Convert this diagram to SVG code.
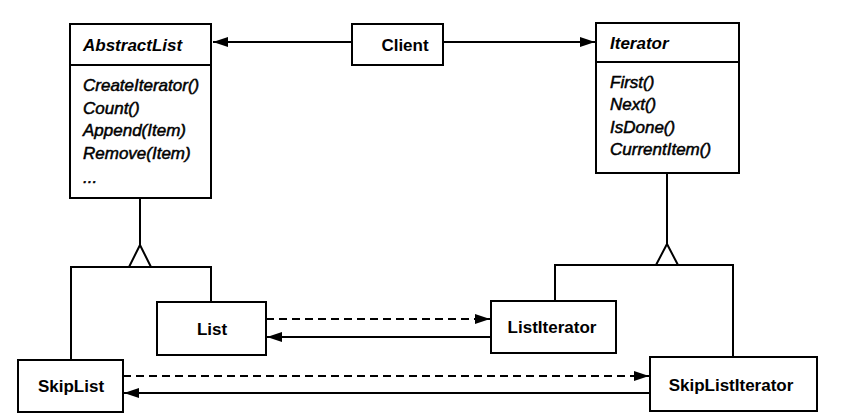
<svg xmlns="http://www.w3.org/2000/svg" width="864" height="420" viewBox="0 0 864 420">
<style>
.box{fill:#fff;stroke:#000;stroke-width:2}
.title{font-family:"Liberation Sans",Arial,sans-serif;font-size:17px;font-weight:bold;font-style:italic;fill:#000}
.name{font-family:"Liberation Sans",Arial,sans-serif;font-size:17px;font-weight:bold;fill:#000;text-anchor:middle}
.op{font-family:"Liberation Sans",Arial,sans-serif;font-size:17px;font-style:italic;fill:#000;stroke:#000;stroke-width:0.5}
.ln{fill:none;stroke:#000;stroke-width:2}
.dash{fill:none;stroke:#000;stroke-width:2;stroke-dasharray:8 5}
.tri{fill:#fff;stroke:#000;stroke-width:2;stroke-linejoin:miter}
</style>
<defs>
<marker id="arr" markerUnits="userSpaceOnUse" markerWidth="17" markerHeight="11" refX="15" refY="5" orient="auto">
<path d="M0,0 L15,5 L0,10 Z" fill="#000"/>
</marker>
</defs>
<rect width="864" height="420" fill="#fff"/>
<g id="connectors">
<line class="ln" x1="352" y1="42" x2="213" y2="42" marker-end="url(#arr)"/>
<line class="ln" x1="443" y1="42" x2="595" y2="42" marker-end="url(#arr)"/>
<polyline class="ln" points="140,198 140,245"/>
<polyline class="ln" points="71,360 71,267 211,267 211,302"/>
<polygon class="tri" points="140,245 129,267 151,267"/>
<polyline class="ln" points="667,173 667,244"/>
<polyline class="ln" points="555,301 555,265 733,265 733,357"/>
<polygon class="tri" points="667,244 656,265 678,265"/>
<line class="dash" x1="266" y1="319" x2="490" y2="319" marker-end="url(#arr)"/>
<line class="ln" x1="491" y1="337" x2="267" y2="337" marker-end="url(#arr)"/>
<line class="dash" x1="123" y1="376" x2="649" y2="376" marker-end="url(#arr)"/>
<line class="ln" x1="650" y1="393" x2="124" y2="393" marker-end="url(#arr)"/>
</g>
<g id="AbstractList">
<rect class="box" x="70" y="24" width="141" height="174"/>
<line class="ln" x1="70" y1="65" x2="211" y2="65"/>
<text class="title" x="83" y="51">AbstractList</text>
<text class="op" x="83" y="91">CreateIterator()</text>
<text class="op" x="83" y="113.5">Count()</text>
<text class="op" x="83" y="136">Append(Item)</text>
<text class="op" x="83" y="158.5">Remove(Item)</text>
<text class="op" x="83" y="183">...</text>
</g>
<g id="Client">
<rect class="box" x="352" y="24" width="91" height="41"/>
<text class="name" x="405" y="51">Client</text>
</g>
<g id="Iterator">
<rect class="box" x="596" y="23" width="143" height="150"/>
<line class="ln" x1="596" y1="62" x2="739" y2="62"/>
<text class="title" x="610" y="49">Iterator</text>
<text class="op" x="610" y="88">First()</text>
<text class="op" x="610" y="110">Next()</text>
<text class="op" x="610" y="133">IsDone()</text>
<text class="op" x="610" y="155">CurrentItem()</text>
</g>
<g id="List">
<rect class="box" x="157" y="302" width="109" height="53"/>
<text class="name" x="212" y="335">List</text>
</g>
<g id="ListIterator">
<rect class="box" x="491" y="301" width="125" height="52"/>
<text class="name" x="552" y="333">ListIterator</text>
</g>
<g id="SkipList">
<rect class="box" x="18" y="360" width="105" height="52"/>
<text class="name" x="71" y="392">SkipList</text>
</g>
<g id="SkipListIterator">
<rect class="box" x="650" y="357" width="167" height="54"/>
<text class="name" x="731" y="391">SkipListIterator</text>
</g>
</svg>
